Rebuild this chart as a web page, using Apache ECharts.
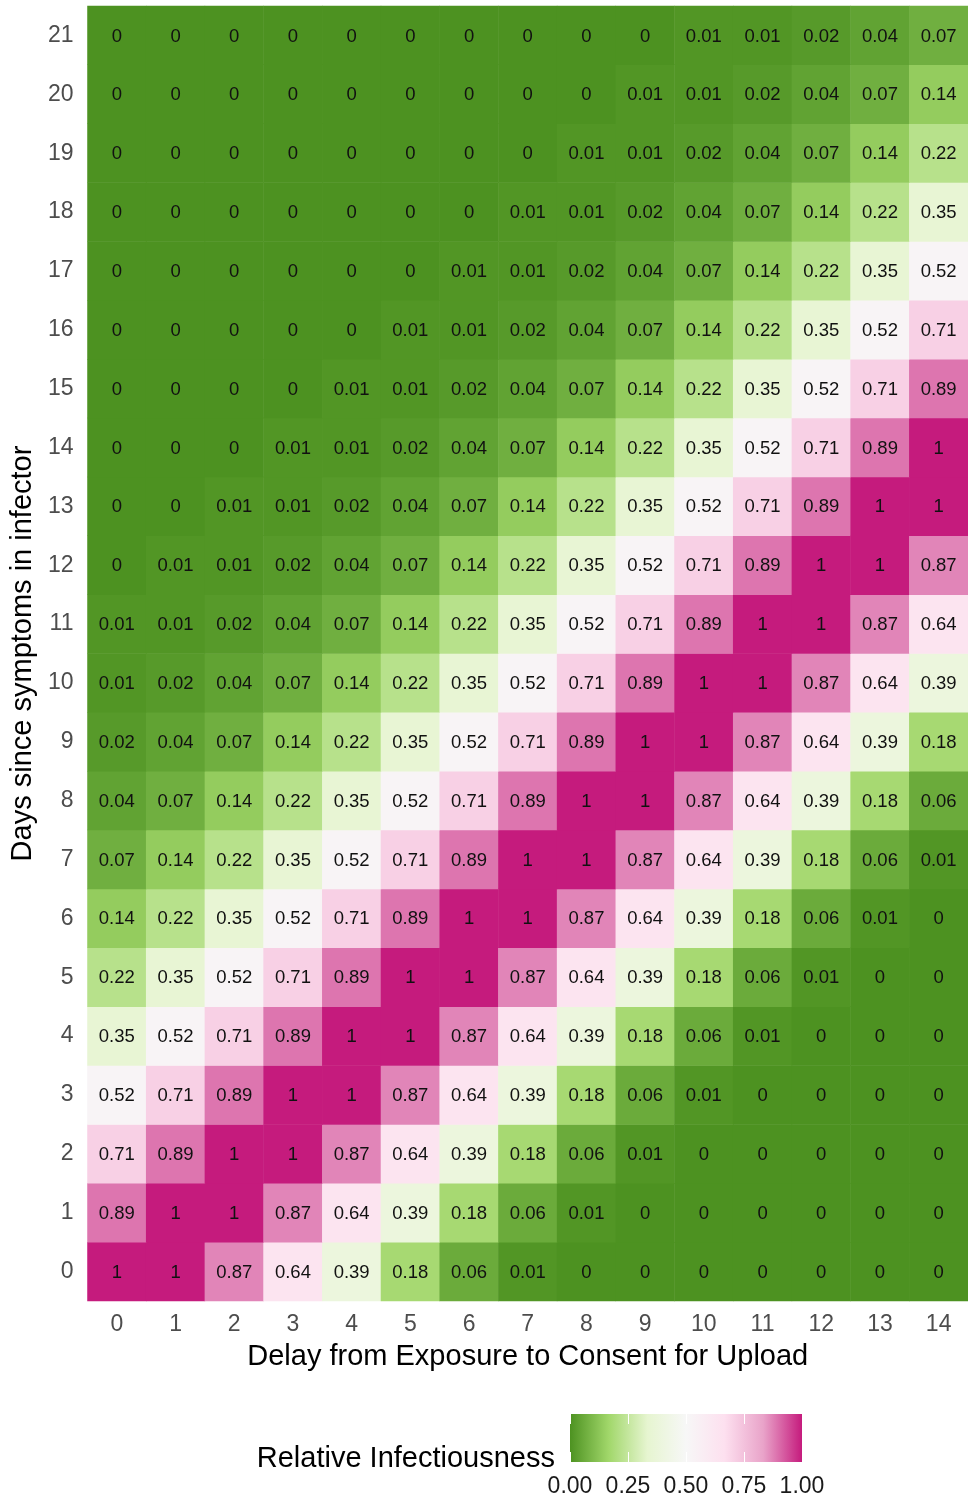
<!DOCTYPE html>
<html>
<head>
<meta charset="utf-8">
<script src="https://cdn.jsdelivr.net/npm/echarts@6/dist/echarts.min.js"></script>
<style>
  html, body { margin: 0; padding: 0; background: #fff; }
  #chart { width: 968px; height: 1501px; }
</style>
</head>
<body>
<div id="chart"></div>
<script>
// delay from exposure to consent (x) and days since symptoms (y)
const delays = ['0','1','2','3','4','5','6','7','8','9','10','11','12','13','14'];
const days = ['0','1','2','3','4','5','6','7','8','9','10','11','12','13','14','15','16','17','18','19','20','21'];

// relative infectiousness, one row per day since symptoms (row 0 = day 0)
const infectiousness = [
  [1, 1, 0.87, 0.64, 0.39, 0.18, 0.06, 0.01, 0, 0, 0, 0, 0, 0, 0],
  [0.89, 1, 1, 0.87, 0.64, 0.39, 0.18, 0.06, 0.01, 0, 0, 0, 0, 0, 0],
  [0.71, 0.89, 1, 1, 0.87, 0.64, 0.39, 0.18, 0.06, 0.01, 0, 0, 0, 0, 0],
  [0.52, 0.71, 0.89, 1, 1, 0.87, 0.64, 0.39, 0.18, 0.06, 0.01, 0, 0, 0, 0],
  [0.35, 0.52, 0.71, 0.89, 1, 1, 0.87, 0.64, 0.39, 0.18, 0.06, 0.01, 0, 0, 0],
  [0.22, 0.35, 0.52, 0.71, 0.89, 1, 1, 0.87, 0.64, 0.39, 0.18, 0.06, 0.01, 0, 0],
  [0.14, 0.22, 0.35, 0.52, 0.71, 0.89, 1, 1, 0.87, 0.64, 0.39, 0.18, 0.06, 0.01, 0],
  [0.07, 0.14, 0.22, 0.35, 0.52, 0.71, 0.89, 1, 1, 0.87, 0.64, 0.39, 0.18, 0.06, 0.01],
  [0.04, 0.07, 0.14, 0.22, 0.35, 0.52, 0.71, 0.89, 1, 1, 0.87, 0.64, 0.39, 0.18, 0.06],
  [0.02, 0.04, 0.07, 0.14, 0.22, 0.35, 0.52, 0.71, 0.89, 1, 1, 0.87, 0.64, 0.39, 0.18],
  [0.01, 0.02, 0.04, 0.07, 0.14, 0.22, 0.35, 0.52, 0.71, 0.89, 1, 1, 0.87, 0.64, 0.39],
  [0.01, 0.01, 0.02, 0.04, 0.07, 0.14, 0.22, 0.35, 0.52, 0.71, 0.89, 1, 1, 0.87, 0.64],
  [0, 0.01, 0.01, 0.02, 0.04, 0.07, 0.14, 0.22, 0.35, 0.52, 0.71, 0.89, 1, 1, 0.87],
  [0, 0, 0.01, 0.01, 0.02, 0.04, 0.07, 0.14, 0.22, 0.35, 0.52, 0.71, 0.89, 1, 1],
  [0, 0, 0, 0.01, 0.01, 0.02, 0.04, 0.07, 0.14, 0.22, 0.35, 0.52, 0.71, 0.89, 1],
  [0, 0, 0, 0, 0.01, 0.01, 0.02, 0.04, 0.07, 0.14, 0.22, 0.35, 0.52, 0.71, 0.89],
  [0, 0, 0, 0, 0, 0.01, 0.01, 0.02, 0.04, 0.07, 0.14, 0.22, 0.35, 0.52, 0.71],
  [0, 0, 0, 0, 0, 0, 0.01, 0.01, 0.02, 0.04, 0.07, 0.14, 0.22, 0.35, 0.52],
  [0, 0, 0, 0, 0, 0, 0, 0.01, 0.01, 0.02, 0.04, 0.07, 0.14, 0.22, 0.35],
  [0, 0, 0, 0, 0, 0, 0, 0, 0.01, 0.01, 0.02, 0.04, 0.07, 0.14, 0.22],
  [0, 0, 0, 0, 0, 0, 0, 0, 0, 0.01, 0.01, 0.02, 0.04, 0.07, 0.14],
  [0, 0, 0, 0, 0, 0, 0, 0, 0, 0, 0.01, 0.01, 0.02, 0.04, 0.07]
];

// PiYG palette, green (0) to magenta (1)
const palette = ['#4d9221', '#a1d76a', '#e6f5d0', '#f7f7f7', '#fde0ef', '#e9a3c9', '#c51b7d'];
const legendTicks = [0, 0.25, 0.5, 0.75, 1];

const FONT = "'Liberation Sans', Arial, sans-serif";

const cells = [];
infectiousness.forEach(function (row, y) {
  row.forEach(function (v, x) {
    cells.push([x, y, v]);
  });
});

const chart = echarts.init(document.getElementById('chart'));

const legendAxis = {
  gridIndex: 1,
  type: 'value',
  min: legendTicks[0],
  max: legendTicks[legendTicks.length - 1],
  interval: 0.25,
  z: 5,
  axisLine: { show: false },
  splitLine: { show: false },
  axisTick: { show: true, inside: true, length: 10, lineStyle: { color: '#fff', width: 1 } }
};

chart.setOption({
  animation: false,
  textStyle: { fontFamily: FONT },
  grid: [
    { left: 87, top: 6, right: 0, height: 1295, containLabel: false },
    { left: 570, top: 1414, width: 232, height: 48 }
  ],
  xAxis: [
    {
      type: 'category',
      data: delays,
      gridIndex: 0,
      axisLine: { show: false },
      axisTick: { show: false },
      splitLine: { show: false },
      axisLabel: { fontSize: 23, color: '#4d4d4d', margin: 12, fontFamily: FONT },
      name: 'Delay from Exposure to Consent for Upload',
      nameLocation: 'middle',
      nameGap: 41,
      nameTextStyle: { fontSize: 29, color: '#000', fontFamily: FONT }
    },
    Object.assign({}, legendAxis, {
      position: 'bottom',
      axisLabel: {
        fontSize: 23, color: '#1a1a1a', margin: 13, fontFamily: FONT,
        formatter: function (v) { return v.toFixed(2); }
      }
    }),
    Object.assign({}, legendAxis, {
      position: 'top',
      axisLabel: { show: false }
    })
  ],
  yAxis: [
    {
      type: 'category',
      data: days,
      gridIndex: 0,
      axisLine: { show: false },
      axisTick: { show: false },
      splitLine: { show: false },
      axisLabel: { fontSize: 23, color: '#4d4d4d', margin: 14, lineHeight: 26, padding: [3, 0, 0, 0], fontFamily: FONT },
      name: 'Days since symptoms in infector',
      nameLocation: 'middle',
      nameRotate: 90,
      nameGap: 46,
      nameTextStyle: { fontSize: 29, color: '#000', fontFamily: FONT }
    },
    { gridIndex: 1, type: 'value', show: false, min: 0, max: 1 }
  ],
  visualMap: {
    show: false,
    type: 'continuous',
    min: 0,
    max: 1,
    dimension: 2,
    seriesIndex: 0,
    inRange: { color: palette }
  },
  graphic: [
    {
      type: 'rect',
      z: 1,
      shape: { x: 570, y: 1414, width: 232, height: 48 },
      style: {
        fill: new echarts.graphic.LinearGradient(0, 0, 1, 0,
          palette.map(function (c, i) { return { offset: i / (palette.length - 1), color: c }; }))
      }
    },
    {
      type: 'text',
      z: 1,
      x: 555,
      y: 1459,
      style: {
        text: 'Relative Infectiousness',
        fontSize: 29,
        fontFamily: FONT,
        fill: '#000',
        align: 'right',
        verticalAlign: 'middle'
      }
    }
  ],
  series: [
    {
      type: 'heatmap',
      xAxisIndex: 0,
      yAxisIndex: 0,
      data: cells,
      label: {
        show: true,
        fontSize: 18.5,
        color: '#111',
        fontFamily: FONT,
        offset: [0, 1],
        formatter: function (p) { return String(p.value[2]); }
      },
      emphasis: { disabled: true }
    }
  ]
});
</script>
</body>
</html>
